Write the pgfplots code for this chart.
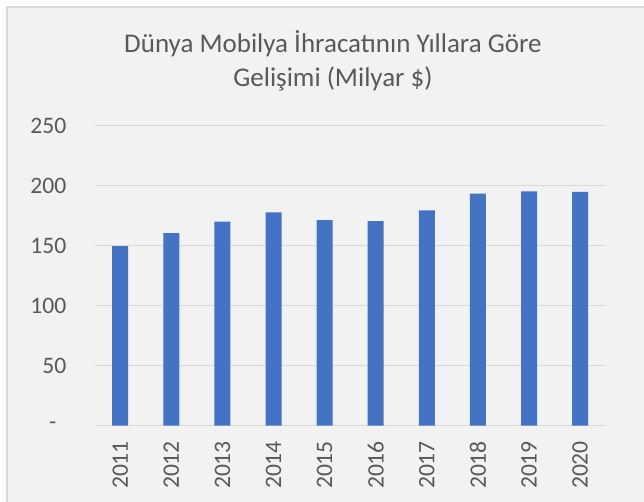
\documentclass[border=0pt]{standalone}
\usepackage{fontspec}
\setmainfont{Carlito}
\usepackage{pgfplots}
\pgfplotsset{compat=1.18}
\usepackage{pgfplotstable}
\definecolor{barblue}{HTML}{4472C4}
\definecolor{txtgray}{HTML}{595959}
\definecolor{gridgray}{HTML}{D9D9D9}
\definecolor{bggray}{HTML}{F2F2F2}

\pgfplotstableread{
x year value
0 2011 149.6
1 2012 160.5
2 2013 170.0
3 2014 177.8
4 2015 171.3
5 2016 170.5
6 2017 179.5
7 2018 193.3
8 2019 195.3
9 2020 194.8
}\exports

\newcommand{\yl}[1]{#1\hspace*{14pt}}
\newcommand{\xl}[1]{#1\hspace*{7.5pt}}

\begin{document}
\begin{tikzpicture}
% frame (1px = 0.5pt, axis origin at px (94.7,425.7))
\fill[white] (-47.35pt,-38.15pt) rectangle (274.65pt,212.85pt);
\begin{scope}
\clip (-47.35pt,-38.15pt) rectangle (274.65pt,212.85pt);
\filldraw[fill=bggray, draw=gridgray, line width=1pt] (-43.85pt,-45pt) rectangle (285pt,209.35pt);
\end{scope}
\begin{axis}[
    at={(0,0)}, anchor=south west,
    scale only axis,
    width=255.5pt, height=150pt,
    xmin=-0.5, xmax=9.5,
    ymin=0, ymax=250,
    enlargelimits=false,
    ybar, bar width=8pt,
    xtick=data,
    xticklabels={\xl{2011},\xl{2012},\xl{2013},\xl{2014},\xl{2015},\xl{2016},\xl{2017},\xl{2018},\xl{2019},\xl{2020}},
    ytick={0,50,100,150,200,250},
    yticklabels={\yl{-\hspace*{5pt}},\yl{50},\yl{100},\yl{150},\yl{200},\yl{250}},
    major tick length=0pt,
    ymajorgrids,
    grid style={gridgray, line width=0.75pt},
    axis x line*=bottom, axis y line*=left,
    x axis line style={gridgray, line width=0.75pt},
    y axis line style={draw=none},
    tick label style={font=\fontsize{11.8}{14}\selectfont, text=txtgray, inner sep=0pt},
    xticklabel style={rotate=90, anchor=east},
    yticklabel style={anchor=east},
    axis background/.style={fill=bggray},
]
\addplot[fill=barblue, draw=none] table[x=x, y=value] {\exports};
\end{axis}
\node[anchor=base, text=txtgray, font=\fontsize{13.5}{17}\selectfont] at (119.15pt,186.35pt) {Dünya Mobilya İhracatının Yıllara Göre};
\node[anchor=base, text=txtgray, font=\fontsize{13.5}{17}\selectfont] at (119.15pt,169.35pt) {Gelişimi (Milyar \$)};
\end{tikzpicture}
\end{document}
